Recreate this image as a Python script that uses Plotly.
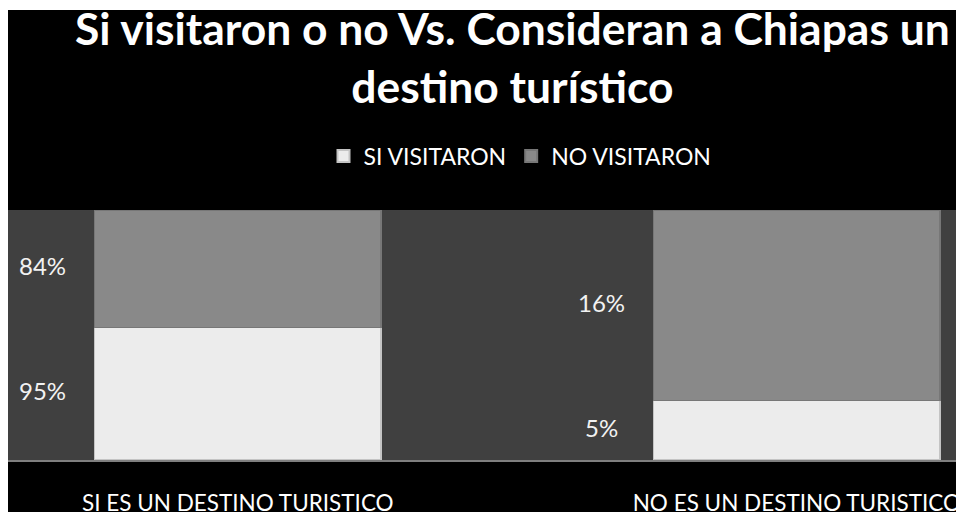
import plotly.graph_objects as go

categories = ["SI ES UN DESTINO TURISTICO", "NO ES UN DESTINO TURISTICO"]
series_names = ["SI VISITARON", "NO VISITARON"]
si_visitaron = [95, 5]
no_visitaron = [84, 16]
title_text = "<b>Si visitaron o no Vs. Consideran a Chiapas un<br>destino turístico</b>"

FONT = "Lato"
W, H = 956, 504
PT, PB = 202, 52           # plot top / bottom margins (px)
PH = H - PT - PB           # plot height (px)
x_idx = list(range(len(categories)))

fig = go.Figure()
fig.add_trace(go.Bar(
    x=x_idx, y=si_visitaron, name=series_names[0], width=0.512,
    marker=dict(color="#ececec", line=dict(color="#c4c4c4", width=1.5)),
    hoverinfo="y",
))
fig.add_trace(go.Bar(
    x=x_idx, y=no_visitaron, name=series_names[1], width=0.512,
    marker=dict(color="#898989", line=dict(color="#777777", width=1.5)),
    hoverinfo="y",
))

# data labels left of each segment, at the segment's (normalised) midpoint
label_offset = -0.35
for i in x_idx:
    total = si_visitaron[i] + no_visitaron[i]
    s = si_visitaron[i] / total * 100
    n = no_visitaron[i] / total * 100
    for val, mid in ((si_visitaron[i], s / 2), (no_visitaron[i], s + n / 2)):
        fig.add_annotation(
            x=i + label_offset, y=mid, xref="x", yref="y", yshift=3,
            text=f"{val}%", showarrow=False,
            font=dict(family=FONT, size=24, color="#f2f2f2"),
        )

# title as an annotation (handles the two lines cleanly)
fig.add_annotation(
    x=504 / W, y=1 + (PT + 9) / PH, xref="paper", yref="paper",
    xanchor="center", yanchor="top", showarrow=False,
    text=title_text, font=dict(family=FONT, size=44.4, color="white"),
)

# thin white strip at the very top
fig.add_shape(type="rect", xref="paper", yref="paper", x0=-0.01, x1=1.01,
              y0=1 + (PT - 2) / PH, y1=1 + (PT + 5) / PH,
              fillcolor="white", line=dict(width=0), layer="below")

fig.update_layout(
    width=W, height=H,
    margin=dict(l=0, r=0, t=PT, b=PB, autoexpand=False),
    paper_bgcolor="black",
    plot_bgcolor="#404040",
    barmode="stack", barnorm="percent",
    legend=dict(
        orientation="h", x=512 / W, xanchor="center",
        y=1 + (PT - 148) / PH, yanchor="middle",
        font=dict(family=FONT, size=23, color="white"),
        bgcolor="rgba(0,0,0,0)", itemsizing="constant",
        traceorder="normal",
    ),
    showlegend=True,
    xaxis=dict(
        range=[-0.411, 1.299], tickmode="array", tickvals=x_idx, ticktext=categories,
        showgrid=False, zeroline=False, showline=True, linecolor="#7f7f7f", linewidth=1.5,
        tickfont=dict(family=FONT, size=22.5, color="white"),
        ticks="", ticklabelstandoff=22, automargin=False,
    ),
    yaxis=dict(range=[0, 100], visible=False, showgrid=False, automargin=False),
)

fig.write_html("out.html")
